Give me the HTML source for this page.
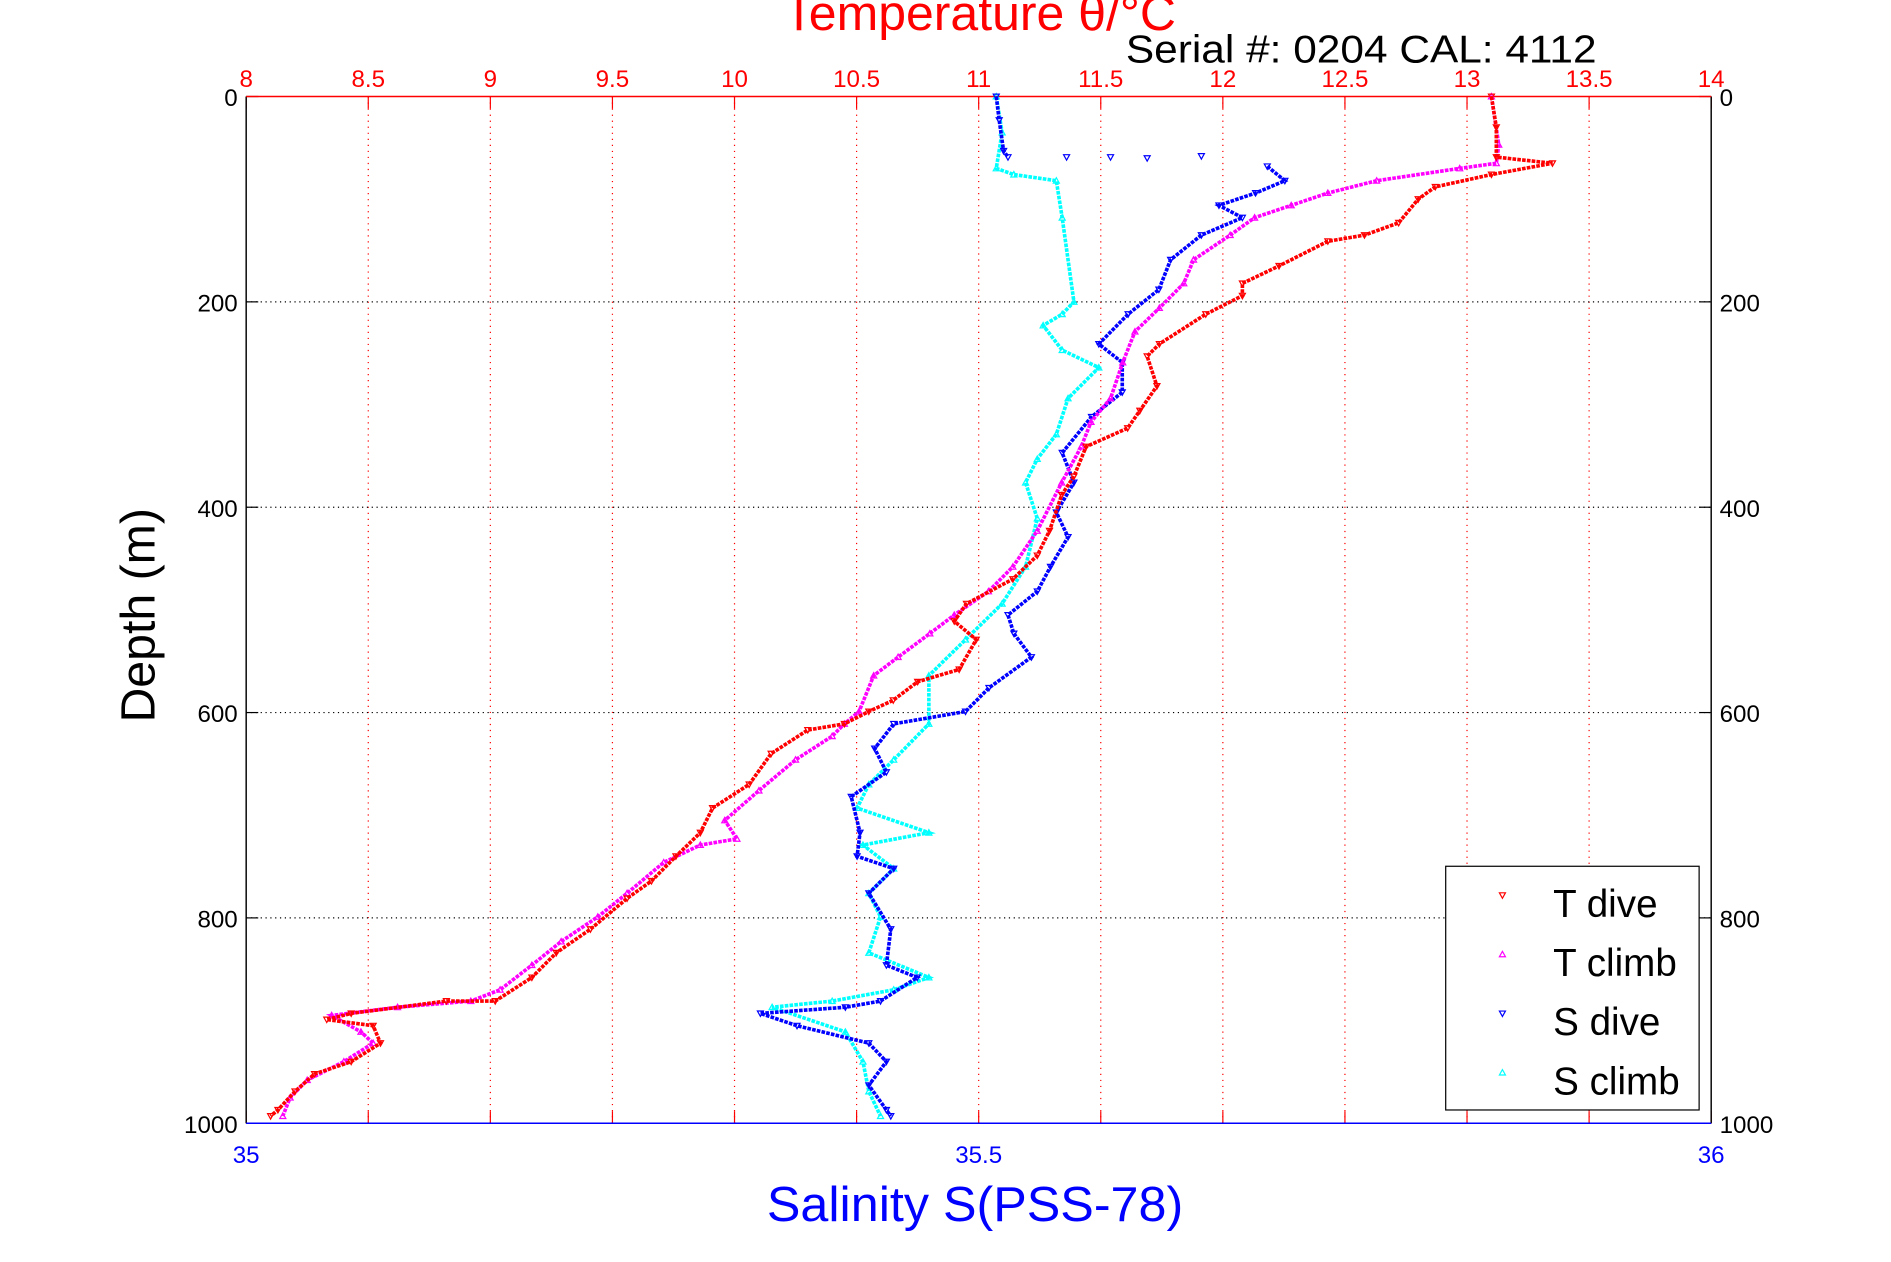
<!DOCTYPE html>
<html><head><meta charset="utf-8"><style>
html,body{margin:0;padding:0;background:#fff;}
svg{display:block;font-family:"Liberation Sans",sans-serif;}
</style></head><body>
<svg id="chart" width="1891" height="1262" viewBox="0 0 1567 1046" preserveAspectRatio="none" xmlns="http://www.w3.org/2000/svg">
<rect width="1567" height="1046" fill="#fff"/>
<g id="grid"></g>
<g id="axes"></g>
<g id="series"></g>
<text x="812" y="25" fill="#f00" font-size="41" text-anchor="middle" textLength="325" lengthAdjust="spacingAndGlyphs">Temperature θ/°C</text>
<text x="1128" y="52" fill="#000" font-size="32" text-anchor="middle" textLength="390" lengthAdjust="spacingAndGlyphs">Serial #: 0204  CAL: 4112</text>
<text x="808" y="1012" fill="#00f" font-size="41" text-anchor="middle" textLength="345" lengthAdjust="spacingAndGlyphs">Salinity S(PSS-78)</text>
<text x="0" y="0" fill="#000" font-size="40" text-anchor="middle" transform="translate(128,510) rotate(-90)">Depth (m)</text>
<g>
<rect x="1198" y="718" width="210" height="202" fill="#fff" stroke="#000" stroke-width="1"/>
<g id="legend-items"></g>
</g>
</svg>
<script>
const tempTicks = [8,8.5,9,9.5,10,10.5,11,11.5,12,12.5,13,13.5,14];
const tempTickLabels = ["8","8.5","9","9.5","10","10.5","11","11.5","12","12.5","13","13.5","14"];
const salTicks = [35,35.5,36];
const salTickLabels = ["35","35.5","36"];
const depthTicks = [0,200,400,600,800,1000];
const depthTickLabels = ["0","200","400","600","800","1000"];

// T dive
const tDiveDepth = [0,30,59,65,76,88,100,123,135,141,165,182,194,212,241,253,282,306,323,341,370,388,423,447,470,494,511,529,558,570,588,599,611,617,640,670,693,717,740,764,781,811,834,858,881,881,893,899,905,922,940,952,969,987,993];
const tDiveT = [13.1,13.12,13.12,13.35,13.1,12.87,12.8,12.72,12.58,12.43,12.23,12.08,12.08,11.93,11.74,11.69,11.73,11.66,11.61,11.44,11.39,11.34,11.29,11.24,11.14,10.95,10.9,10.99,10.92,10.75,10.65,10.55,10.45,10.3,10.15,10.06,9.91,9.86,9.76,9.66,9.56,9.41,9.27,9.17,9.02,8.82,8.43,8.33,8.52,8.55,8.43,8.28,8.2,8.13,8.1];
// T climb
const tClimbDepth = [0,47,65,70,82,94,106,118,135,159,182,206,229,259,294,317,341,376,423,458,482,505,523,546,564,599,611,623,646,676,705,723,729,746,776,799,823,846,870,881,887,895,911,922,940,958,975,993];
const tClimbT = [13.1,13.13,13.12,12.97,12.63,12.43,12.28,12.13,12.03,11.88,11.84,11.74,11.64,11.59,11.54,11.46,11.42,11.34,11.24,11.14,11.04,10.9,10.8,10.67,10.57,10.51,10.45,10.4,10.25,10.1,9.96,10.01,9.86,9.71,9.56,9.44,9.29,9.17,9.04,8.92,8.62,8.35,8.47,8.52,8.4,8.25,8.18,8.15];
// S dive (surface section, scattered spikes, then main profile)
const sDiveTopDepth = [0,23,53,59];
const sDiveTopS = [35.512,35.514,35.517,35.52];
const sDiveSpikeDepth = [59,59,60,58];
const sDiveSpikeS = [35.56,35.59,35.615,35.652];
const sDiveDepth = [68,82,94,106,118,135,159,188,212,241,259,288,312,347,376,405,429,458,482,505,523,546,576,599,611,635,658,682,717,740,752,776,811,846,858,881,887,893,905,922,940,963,987,993];
const sDiveS = [35.697,35.709,35.689,35.664,35.68,35.652,35.631,35.623,35.602,35.582,35.598,35.598,35.577,35.557,35.565,35.553,35.561,35.549,35.54,35.52,35.524,35.536,35.507,35.491,35.442,35.429,35.437,35.413,35.419,35.417,35.442,35.425,35.44,35.437,35.458,35.433,35.409,35.351,35.376,35.425,35.437,35.425,35.437,35.44];
// S climb
const sClimbDepth = [0,35,70,76,82,118,200,212,223,247,264,294,329,353,376,411,458,494,529,564,611,646,670,693,717,729,752,776,799,834,858,870,881,887,911,940,969,993];
const sClimbS = [35.512,35.516,35.512,35.524,35.553,35.557,35.565,35.557,35.544,35.557,35.582,35.561,35.553,35.54,35.532,35.54,35.532,35.516,35.491,35.466,35.466,35.442,35.425,35.417,35.466,35.421,35.442,35.425,35.433,35.425,35.466,35.442,35.4,35.359,35.409,35.421,35.425,35.433];

const L=204,R=1418,T=80,B=931;
const xT = t => L + (t-8)/6*(R-L);
const xS = s => L + (s-35)*(R-L);
const yD = d => T + d/1000*(B-T);
const NS="http://www.w3.org/2000/svg";
function mk(tag, attrs, parent){const e=document.createElementNS(NS,tag);for(const k in attrs)e.setAttribute(k,attrs[k]);parent.appendChild(e);return e;}
const grid=document.getElementById('grid'), axes=document.getElementById('axes'), ser=document.getElementById('series');

tempTicks.forEach((t,i)=>{
  const x=xT(t);
  if(i>0&&i<tempTicks.length-1){
    const g=mk('line',{x1:x,x2:x,y1:T,y2:B,stroke:'#f00','stroke-width':1,'stroke-dasharray':'1,4'},grid);
    
    
  }
  mk('line',{x1:x,x2:x,y1:T,y2:T+10,stroke:'#f00','stroke-width':1},axes);
  mk('line',{x1:x,x2:x,y1:B,y2:B-10,stroke:'#f00','stroke-width':1},axes);
  const tx=mk('text',{x:x,y:T-8,fill:'#f00','font-size':20,'text-anchor':'middle'},axes);
  
  
  tx.textContent=tempTickLabels[i];
});
depthTicks.forEach((d,i)=>{
  const y=yD(d);
  if(i>0&&i<depthTicks.length-1){
    const g=mk('line',{x1:L,x2:R,y1:y,y2:y,stroke:'#000','stroke-width':1,'stroke-dasharray':'1,3'},grid);
    
    
  }
  mk('line',{x1:L,x2:L+10,y1:y,y2:y,stroke:'#000','stroke-width':1},axes);
  mk('line',{x1:R,x2:R-10,y1:y,y2:y,stroke:'#000','stroke-width':1},axes);
  const a=mk('text',{x:L-7,y:y+8,fill:'#000','font-size':20,'text-anchor':'end'},axes);
  
  
  a.textContent=depthTickLabels[i];
  const b=mk('text',{x:R+7,y:y+8,fill:'#000','font-size':20,'text-anchor':'start'},axes);
  
  
  b.textContent=depthTickLabels[i];
});
salTicks.forEach((s,i)=>{
  const x=xS(s);
  const tx=mk('text',{x:x,y:B+33,fill:'#00f','font-size':20,'text-anchor':'middle'},axes);
  
  
  tx.textContent=salTickLabels[i];
});
mk('line',{x1:L,x2:L,y1:T,y2:B,stroke:'#000','stroke-width':1.2},axes);
mk('line',{x1:R,x2:R,y1:T,y2:B,stroke:'#000','stroke-width':1.2},axes);
mk('line',{x1:L,x2:R,y1:T,y2:T,stroke:'#f00','stroke-width':1.2},axes);
mk('line',{x1:L,x2:R,y1:B,y2:B,stroke:'#00f','stroke-width':1.2},axes);

function tri(x,y,down){return down?`M${x-2.5},${y-2} L${x+2.5},${y-2} L${x},${y+2.5} Z`:`M${x-2.5},${y+2} L${x+2.5},${y+2} L${x},${y-2.5} Z`;}
function drawSeries(depths, vals, xf, color, down, name, withLine){
  const g=mk('g',{},ser);
  
  
  if(withLine){
    const pts=depths.map((d,i)=>xf(vals[i])+','+yD(d)).join(' ');
    mk('polyline',{points:pts,fill:'none',stroke:color,'stroke-width':3,'stroke-dasharray':'3,1'},g);
  }
  depths.forEach((d,i)=>{
    const p=mk('path',{d:tri(xf(vals[i]),yD(d),down),fill:'none',stroke:color,'stroke-width':1},g);
    
    
  });
}
drawSeries(sClimbDepth,sClimbS,xS,'#0ff',false,'s-climb-series',true);
drawSeries(sDiveTopDepth,sDiveTopS,xS,'#00f',true,'s-dive-surface',true);
drawSeries(sDiveSpikeDepth,sDiveSpikeS,xS,'#00f',true,'s-dive-spikes',false);
drawSeries(sDiveDepth,sDiveS,xS,'#00f',true,'s-dive-series',true);
drawSeries(tClimbDepth,tClimbT,xT,'#f0f',false,'t-climb-series',true);
drawSeries(tDiveDepth,tDiveT,xT,'#f00',true,'t-dive-series',true);

const legNames=['T dive','T climb','S dive','S climb'];
const legColors=['#f00','#f0f','#00f','#0ff'];
const legY=[750,799,848,897];
const li=document.getElementById('legend-items');
legNames.forEach((n,i)=>{
  const g=mk('g',{},li);
  
  
  mk('path',{d:tri(1245,legY[i]-8,i%2===0),fill:'none',stroke:legColors[i],'stroke-width':1},g);
  const t=mk('text',{x:1287,y:legY[i]+10,fill:'#000','font-size':32},g);
  t.textContent=n;
});
</script>
</body></html>
